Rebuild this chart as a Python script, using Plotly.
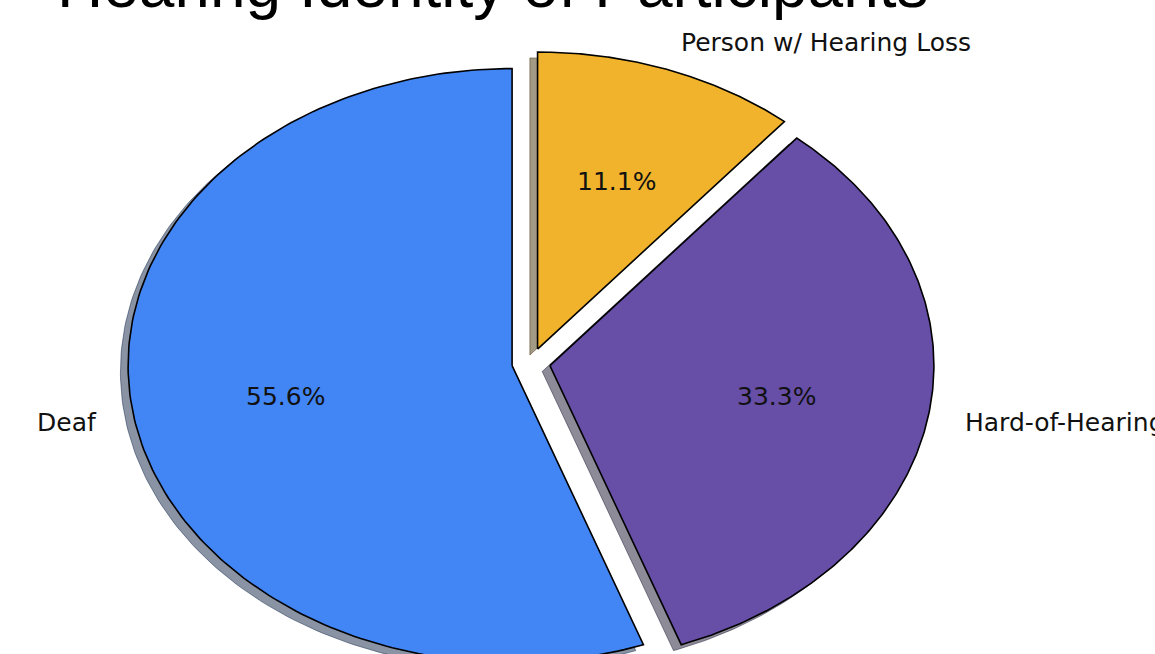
import numpy as np
import plotly.graph_objects as go

# Survey responses: hearing identity of participants
categories = ["Deaf", "Hard-of-Hearing", "Person w/ Hearing Loss"]
counts = [5, 3, 1]
colors = ["#4285F4", "#674EA7", "#F1B32C"]

title = "Hearing Identity of Participants"

# Pie geometry (in radius units)
start_angle = 90.0
explode = 0.05
label_distance = 1.1
pct_distance = 0.6
shadow_offset = (-0.02, -0.02)

# Figure / axis extents: the pie is drawn on a plain x/y axis so it can be
# stretched horizontally into an ellipse.
W, H = 1155, 654
x_range = [-1.3828, 1.625]
y_range = [-0.9798, 1.2222]


def hex_to_rgb(h):
    h = h.lstrip("#")
    return tuple(int(h[i:i + 2], 16) for i in (0, 2, 4))


fig = go.Figure()

total = float(sum(counts))
fracs = [c / total for c in counts]

wedges = []
theta = start_angle
for cat, frac, col in zip(categories, fracs, colors):
    t0, t1 = theta, theta + 360.0 * frac
    mid = np.deg2rad((t0 + t1) / 2.0)
    cx, cy = explode * np.cos(mid), explode * np.sin(mid)
    angs = np.deg2rad(np.linspace(t0, t1, 200))
    xs = np.concatenate([[cx], cx + np.cos(angs), [cx]])
    ys = np.concatenate([[cy], cy + np.sin(angs), [cy]])
    wedges.append((cat, frac, col, mid, cx, cy, xs, ys))
    theta = t1

# Shadows underneath every wedge
for cat, frac, col, mid, cx, cy, xs, ys in wedges:
    r, g, b = hex_to_rgb(col)
    sh = "rgba(%d,%d,%d,0.5)" % (0.3 * r, 0.3 * g, 0.3 * b)
    fig.add_trace(go.Scatter(
        x=xs + shadow_offset[0], y=ys + shadow_offset[1],
        mode="lines", fill="toself", fillcolor=sh,
        line=dict(color=sh, width=1), hoverinfo="skip", showlegend=False,
    ))

# Wedges
for cat, frac, col, mid, cx, cy, xs, ys in wedges:
    fig.add_trace(go.Scatter(
        x=xs, y=ys, mode="lines", fill="toself", fillcolor=col,
        line=dict(color="black", width=1.6), name=cat,
        hoverinfo="name", showlegend=False,
    ))

label_font = dict(family="DejaVu Sans", size=25, color="#111111")

for cat, frac, col, mid, cx, cy, xs, ys in wedges:
    # category label outside the wedge
    lx = cx + label_distance * np.cos(mid)
    ly = cy + label_distance * np.sin(mid)
    right_side = lx > 0
    fig.add_annotation(
        x=lx, y=ly, xref="x", yref="y", text=cat, showarrow=False,
        xanchor="left" if right_side else "right", yanchor="middle",
        xshift=-3 if right_side else 3,
        font=label_font,
    )
    # percentage inside the wedge
    px = cx + pct_distance * np.cos(mid)
    py = cy + pct_distance * np.sin(mid)
    fig.add_annotation(
        x=px, y=py, xref="x", yref="y", text="%.1f%%" % (100 * frac),
        showarrow=False, xanchor="center", yanchor="middle", font=label_font,
    )

fig.add_annotation(
    x=55 / W, y=1 - 23 / H, xref="paper", yref="paper", text=title,
    showarrow=False, xanchor="left", yanchor="bottom",
    font=dict(family="Liberation Sans, Arial", size=64, color="black"),
)

fig.update_layout(
    width=W, height=H,
    margin=dict(l=0, r=0, t=0, b=0),
    paper_bgcolor="white", plot_bgcolor="white",
    xaxis=dict(range=x_range, visible=False, fixedrange=True),
    yaxis=dict(range=y_range, visible=False, fixedrange=True),
)

fig.write_html("out.html")
